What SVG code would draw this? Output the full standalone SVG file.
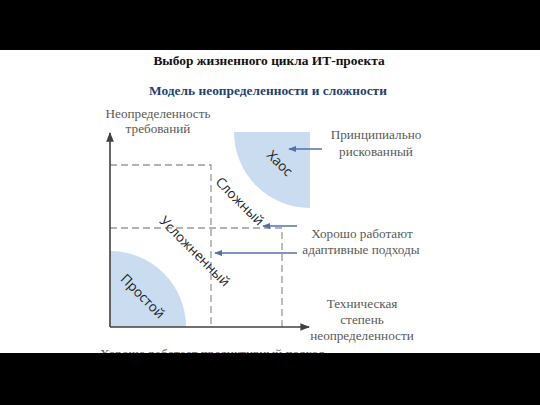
<svg xmlns="http://www.w3.org/2000/svg" width="540" height="405" viewBox="0 0 540 405">
<defs>
<style>
.t{font-family:"Liberation Serif","Times New Roman",serif;font-size:13.2px;fill:#595959;text-anchor:middle}
.h{font-family:"Liberation Serif","Times New Roman",serif;font-size:13.4px;font-weight:bold;text-anchor:middle}
.r{font-family:"Open Sans","Liberation Sans",sans-serif;font-size:13.5px;fill:#222;text-anchor:middle}
.dash{fill:none;stroke:#9a9a9a;stroke-width:1.3;stroke-dasharray:7,4}
.axis{stroke:#404040;stroke-width:1.6;fill:none}
.blue{stroke:#5470aa;stroke-width:1.6;fill:none}
.zone{fill:#cadcf0}
</style>
<marker id="ah" viewBox="0 0 10 10" refX="9" refY="5" markerWidth="6" markerHeight="6" orient="auto"><path d="M0,1 L10,5 L0,9 Z" fill="#404040"/></marker>
<marker id="bh" viewBox="0 0 10 10" refX="9" refY="5" markerWidth="5" markerHeight="5" orient="auto"><path d="M0,1 L10,5 L0,9 Z" fill="#5470aa"/></marker>
</defs>
<rect width="540" height="405" fill="#fff"/>
<g id="titles">
<text class="h" x="269" y="65" fill="#111">Выбор жизненного цикла ИТ-проекта</text>
<text class="h" x="268" y="95" fill="#243f72">Модель неопределенности и сложности</text>
</g>
<g id="zone-chaos"><path class="zone" d="M234,132 L310,132 L310,208 A76,76 0 0 1 234,132 Z"/><text class="r" transform="translate(280,163) rotate(45)" dy="5">Хаос</text></g>
<g id="zone-simple"><path class="zone" d="M110,251 A76,76 0 0 1 186,327 L110,327 Z"/><text class="r" transform="translate(143,296) rotate(45)" dy="5">Простой</text></g>
<g id="zone-complex"><path class="dash" d="M110,165 L211,165 L211,327"/><text class="r" transform="translate(240,201) rotate(45)" dy="5">Сложный</text></g>
<g id="zone-complicated"><path class="dash" d="M110,228 L282,228 L282,327"/><text class="r" transform="translate(195,251) rotate(45)" dy="5">Усложненный</text></g>
<g id="axes">
<line class="axis" x1="110" y1="327" x2="110" y2="133" marker-end="url(#ah)"/>
<line class="axis" x1="110" y1="327" x2="309" y2="327" marker-end="url(#ah)"/>
<text class="t" x="158" y="118">Неопределенность</text>
<text class="t" x="158" y="133">требований</text>
<text class="t" x="362" y="308">Техническая</text>
<text class="t" x="362" y="324">степень</text>
<text class="t" x="362" y="340">неопределенности</text>
</g>
<g id="labels">
<text class="t" x="376" y="139">Принципиально</text>
<text class="t" x="376" y="156">рискованный</text>
<text class="t" x="362" y="238">Хорошо работают</text>
<text class="t" x="361" y="254">адаптивные подходы</text>
<text class="t" x="100" y="358" style="text-anchor:start">Хорошо работает предиктивный подход</text>
</g>
<g id="connectors">
<line class="blue" x1="322" y1="149" x2="289" y2="149" marker-end="url(#bh)"/>
<line class="blue" x1="297" y1="226" x2="263" y2="226" marker-end="url(#bh)"/>
<line class="blue" x1="297" y1="253" x2="215" y2="253" marker-end="url(#bh)"/>
</g>
<rect x="0" y="0" width="540" height="50" fill="#000"/>
<rect x="0" y="353" width="540" height="52" fill="#000"/>
</svg>
